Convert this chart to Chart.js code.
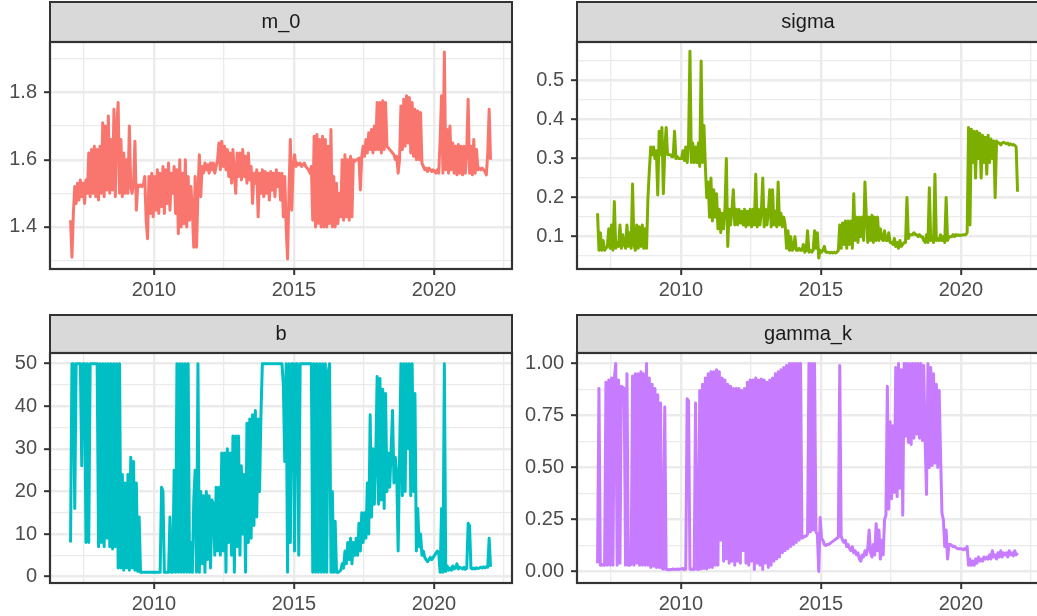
<!DOCTYPE html>
<html lang="ru">
<head>
<meta charset="utf-8">
<title>Параметры модели во времени</title>
<script src="https://cdn.jsdelivr.net/npm/chart.js@4.4.1/dist/chart.umd.min.js"></script>
<style>
  body { margin: 0; background: #fff; }
  .facets { position: relative; width: 1037px; height: 616px; overflow: hidden; }
  .facets canvas { position: absolute; }
</style>
</head>
<body>
<div class="facets">
  <canvas id="panel-m0" width="518" height="300" style="left:0;top:0"></canvas>
  <canvas id="panel-sigma" width="522" height="300" style="left:518px;top:0"></canvas>
  <canvas id="panel-b" width="518" height="316" style="left:0;top:300px"></canvas>
  <canvas id="panel-gamma" width="522" height="316" style="left:518px;top:300px"></canvas>
</div>
<script>
// Ряд дат: шаг 0.05 года, начиная с 2007.02
const startYear = 2007.02;
const stepYear = 0.05;
const yearTicks = [2010, 2015, 2020];
const yearMinorTicks = [2007.5, 2012.5, 2017.5, 2022.5];

// m_0 (по строке на год, 20 значений)
const m0Values = [
  1.42, 1.31, 1.44, 1.52, 1.47, 1.53, 1.48, 1.54, 1.49, 1.53, 1.47, 1.54, 1.50, 1.62, 1.49, 1.63, 1.50, 1.64, 1.49, 1.63,
  1.48, 1.64, 1.50, 1.71, 1.49, 1.70, 1.51, 1.73, 1.50, 1.66, 1.51, 1.75, 1.49, 1.70, 1.77, 1.50, 1.66, 1.49, 1.62, 1.50,
  1.60, 1.50, 1.70, 1.52, 1.50, 1.53, 1.655, 1.45, 1.525, 1.52, 1.525, 1.52, 1.525, 1.55, 1.42, 1.365, 1.55, 1.44, 1.56, 1.43,
  1.55, 1.45, 1.57, 1.44, 1.56, 1.46, 1.58, 1.44, 1.57, 1.47, 1.59, 1.45, 1.56, 1.50, 1.58, 1.44, 1.57, 1.38, 1.60, 1.40,
  1.56, 1.41, 1.60, 1.40, 1.55, 1.42, 1.52, 1.45, 1.34, 1.55, 1.34, 1.50, 1.615, 1.49, 1.58, 1.56, 1.59, 1.57, 1.585, 1.56,
  1.59, 1.57, 1.59, 1.56, 1.58, 1.60, 1.65, 1.57, 1.655, 1.58, 1.64, 1.57, 1.63, 1.55, 1.62, 1.53, 1.63, 1.56, 1.50, 1.62,
  1.55, 1.62, 1.54, 1.63, 1.55, 1.61, 1.53, 1.62, 1.54, 1.58, 1.47, 1.56, 1.53, 1.57, 1.43, 1.56, 1.50, 1.57, 1.49, 1.565,
  1.50, 1.56, 1.48, 1.565, 1.51, 1.56, 1.49, 1.57, 1.52, 1.56, 1.48, 1.56, 1.43, 1.55, 1.40, 1.305, 1.50, 1.66, 1.45, 1.58,
  1.615, 1.58, 1.59, 1.585, 1.59, 1.58, 1.585, 1.59, 1.58, 1.575, 1.57, 1.56, 1.58, 1.42, 1.67, 1.40, 1.675, 1.41, 1.66, 1.40,
  1.67, 1.40, 1.66, 1.40, 1.64, 1.41, 1.69, 1.40, 1.55, 1.40, 1.53, 1.41, 1.50, 1.43, 1.60, 1.42, 1.615, 1.43, 1.60, 1.42,
  1.61, 1.43, 1.60, 1.595, 1.60, 1.60, 1.605, 1.51, 1.61, 1.64, 1.61, 1.66, 1.62, 1.68, 1.63, 1.69, 1.62, 1.70, 1.63, 1.77,
  1.63, 1.77, 1.62, 1.775, 1.63, 1.77, 1.64, 1.635, 1.63, 1.625, 1.62, 1.615, 1.60, 1.61, 1.56, 1.60, 1.76, 1.63, 1.78, 1.64,
  1.79, 1.65, 1.785, 1.62, 1.77, 1.61, 1.75, 1.60, 1.745, 1.60, 1.74, 1.59, 1.58, 1.57, 1.575, 1.565, 1.575, 1.57, 1.565, 1.57,
  1.565, 1.56, 1.57, 1.56, 1.66, 1.79, 1.56, 1.92, 1.57, 1.69, 1.56, 1.70, 1.57, 1.65, 1.56, 1.64, 1.555, 1.645, 1.56, 1.64,
  1.555, 1.64, 1.56, 1.63, 1.78, 1.56, 1.64, 1.555, 1.66, 1.56, 1.63, 1.57, 1.575, 1.57, 1.575, 1.57, 1.565, 1.555, 1.62, 1.75,
  1.60
];

// sigma
const sigmaValues = [
  0.16, 0.065, 0.11, 0.065, 0.09, 0.065, 0.07, 0.075, 0.12, 0.07, 0.13, 0.065, 0.19, 0.07, 0.085, 0.075, 0.13, 0.07, 0.105, 0.08,
  0.07, 0.13, 0.075, 0.11, 0.07, 0.235, 0.08, 0.065, 0.13, 0.07, 0.125, 0.075, 0.13, 0.07, 0.12, 0.07, 0.20, 0.27, 0.33, 0.31,
  0.33, 0.30, 0.32, 0.207, 0.37, 0.31, 0.38, 0.21, 0.32, 0.38, 0.31, 0.31, 0.31, 0.305, 0.305, 0.37, 0.30, 0.305, 0.30, 0.30,
  0.30, 0.32, 0.295, 0.33, 0.29, 0.34, 0.575, 0.29, 0.34, 0.29, 0.33, 0.29, 0.34, 0.28, 0.55, 0.29, 0.385, 0.28, 0.20, 0.24,
  0.15, 0.25, 0.14, 0.22, 0.15, 0.21, 0.12, 0.17, 0.11, 0.16, 0.12, 0.17, 0.30, 0.075, 0.17, 0.13, 0.17, 0.22, 0.13, 0.17,
  0.13, 0.17, 0.135, 0.165, 0.13, 0.17, 0.125, 0.165, 0.13, 0.17, 0.125, 0.17, 0.13, 0.26, 0.125, 0.17, 0.13, 0.165, 0.25, 0.125,
  0.17, 0.13, 0.165, 0.22, 0.125, 0.22, 0.13, 0.165, 0.125, 0.24, 0.13, 0.16, 0.125, 0.15, 0.13, 0.07, 0.115, 0.065, 0.10, 0.065,
  0.07, 0.10, 0.065, 0.065, 0.07, 0.065, 0.065, 0.08, 0.06, 0.065, 0.115, 0.06, 0.065, 0.06, 0.065, 0.115, 0.07, 0.11, 0.045, 0.065,
  0.06, 0.065, 0.075, 0.06, 0.06, 0.06, 0.058, 0.06, 0.058, 0.06, 0.058, 0.06, 0.065, 0.13, 0.07, 0.135, 0.08, 0.14, 0.07, 0.14,
  0.08, 0.14, 0.07, 0.21, 0.09, 0.15, 0.085, 0.15, 0.10, 0.15, 0.09, 0.24, 0.15, 0.085, 0.15, 0.09, 0.155, 0.085, 0.15, 0.09,
  0.15, 0.09, 0.12, 0.095, 0.09, 0.115, 0.09, 0.09, 0.11, 0.085, 0.085, 0.08, 0.095, 0.075, 0.085, 0.07, 0.09, 0.075, 0.08, 0.085,
  0.085, 0.20, 0.095, 0.105, 0.105, 0.105, 0.11, 0.105, 0.105, 0.10, 0.105, 0.10, 0.10, 0.09, 0.085, 0.105, 0.085, 0.225, 0.09, 0.10,
  0.085, 0.26, 0.09, 0.095, 0.09, 0.105, 0.09, 0.10, 0.085, 0.20, 0.09, 0.10, 0.10, 0.10, 0.105, 0.10, 0.105, 0.103, 0.104, 0.103,
  0.104, 0.104, 0.105, 0.105, 0.11, 0.38, 0.13, 0.375, 0.29, 0.37, 0.25, 0.37, 0.30, 0.365, 0.25, 0.36, 0.29, 0.355, 0.26, 0.36,
  0.29, 0.35, 0.30, 0.345, 0.20, 0.345, 0.34, 0.34, 0.335, 0.34, 0.342, 0.34, 0.338, 0.34, 0.335, 0.338, 0.335, 0.336, 0.334, 0.33,
  0.215
];

// b
const bValues = [
  8, 50, 50, 16, 50, 50, 50, 50, 26, 50, 50, 8, 50, 8, 50, 50, 50, 50, 50, 50,
  7, 50, 8, 50, 7, 50, 9, 50, 7, 50, 6.5, 50, 7, 50, 2, 50, 2, 24, 1.5, 22,
  2, 24, 1.5, 28, 2, 27, 1.5, 22, 1.2, 14, 1, 1, 1, 1, 1, 1, 1, 1, 1, 1,
  1, 1, 1, 1, 1, 21, 20, 1, 1, 1, 1, 14, 1, 1, 25, 1, 50, 1, 50, 1,
  50, 1, 50, 1, 50, 1, 8, 1, 18, 25, 1, 50, 1, 20, 3, 19, 1, 20, 4, 19,
  2, 18, 17, 5, 21, 6, 21, 5, 29, 6, 29, 1, 30, 8, 29, 5, 33, 1, 33, 7,
  33, 5, 26, 10, 24, 1, 36, 8, 37, 9, 38, 12, 39, 14, 37, 20, 38, 50, 50, 50,
  50, 50, 50, 50, 50, 50, 50, 50, 50, 50, 50, 50, 45, 27, 50, 1, 50, 8, 50, 50,
  6, 50, 50, 5, 50, 50, 50, 50, 50, 50, 50, 50, 50, 1, 50, 1, 50, 1, 50, 1,
  50, 1, 50, 1, 48, 50, 1, 20, 1, 13, 1, 1, 1.2, 1.5, 3, 2, 6, 3, 8, 4,
  9, 3, 8, 5, 9, 5, 12.5, 6, 15, 8, 15, 9, 22, 10, 38, 14, 30, 17, 28, 47,
  17, 46.5, 18, 44, 16, 43, 20, 29, 21, 30, 39, 22, 28, 24, 6, 28, 50, 19, 50, 20,
  50, 30, 50, 19, 50, 20, 43, 6, 16, 7, 10, 5, 6, 4.5, 4, 3.5, 4, 4.5, 4, 4.5,
  5, 5.5, 6, 5.5, 1, 16, 1, 50, 1.2, 2.5, 1.5, 2, 1.5, 2.5, 1.8, 2, 3, 1.8, 2.2, 2,
  1.8, 2.2, 1.7, 2, 12.5, 12, 2, 1.8, 2, 1.8, 2.1, 1.9, 2, 2.2, 2, 2.3, 2.1, 2.3, 2.2, 9,
  2.3
];

// gamma_k
const gammaValues = [
  0.04, 0.88, 0.03, 0.03, 0.035, 0.03, 0.91, 0.03, 0.92, 0.03, 0.93, 0.03, 0.93, 1.0, 0.03, 0.92, 0.04, 0.89, 0.885, 0.88,
  0.03, 0.95, 0.03, 0.03, 0.035, 0.94, 0.03, 0.95, 0.04, 0.95, 0.03, 0.96, 0.03, 0.95, 0.03, 1.0, 0.03, 0.93, 0.02, 0.90,
  0.025, 0.88, 0.02, 0.85, 0.02, 0.81, 0.015, 0.012, 0.79, 0.01, 0.01, 0.008, 0.01, 0.01, 0.012, 0.01, 0.01, 0.012, 0.01, 0.012,
  0.012, 0.015, 0.01, 0.012, 0.83, 0.82, 0.012, 0.01, 0.012, 0.01, 0.81, 0.012, 0.01, 0.87, 0.012, 0.90, 0.015, 0.93, 0.012, 0.95,
  0.02, 0.96, 0.02, 0.96, 0.03, 0.97, 0.03, 0.96, 0.15, 0.93, 0.05, 0.92, 0.06, 0.90, 0.04, 0.89, 0.05, 0.88, 0.03, 0.88,
  0.05, 0.88, 0.04, 0.87, 0.10, 0.88, 0.04, 0.91, 0.03, 0.92, 0.05, 0.92, 0.01, 0.93, 0.04, 0.92, 0.03, 0.925, 0.01, 0.92,
  0.04, 0.91, 0.02, 0.92, 0.03, 0.93, 0.05, 0.95, 0.06, 0.96, 0.07, 0.97, 0.09, 0.98, 0.10, 0.99, 0.11, 1.0, 0.12, 1.0,
  0.13, 1.0, 0.14, 1.0, 0.15, 1.0, 0.16, 0.165, 0.17, 0.17, 0.18, 1.0, 0.19, 1.0, 0.2, 1.0, 0.19, 0.18, 0.0, 0.26,
  0.16, 0.15, 0.13, 0.125, 0.13, 0.13, 0.135, 0.14, 0.145, 0.15, 0.155, 0.16, 0.165, 0.99, 0.17, 0.15, 0.14, 0.15, 0.12, 0.13,
  0.11, 0.10, 0.12, 0.09, 0.10, 0.08, 0.09, 0.06, 0.05, 0.08, 0.07, 0.10, 0.08, 0.11, 0.2, 0.09, 0.07, 0.13, 0.08, 0.23,
  0.10, 0.20, 0.06, 0.15, 0.08, 0.25, 0.27, 0.89, 0.30, 0.72, 0.35, 0.70, 0.38, 0.98, 0.36, 1.0, 0.40, 0.97, 0.27, 1.0,
  0.65, 1.0, 0.62, 1.0, 0.61, 1.0, 0.64, 1.0, 0.66, 1.0, 0.64, 1.0, 0.63, 0.99, 0.62, 0.37, 1.0, 0.5, 0.98, 0.51,
  0.95, 0.52, 0.90, 0.5, 0.87, 0.57, 0.28, 0.25, 0.12, 0.2, 0.06, 0.13, 0.13, 0.125, 0.12, 0.12, 0.115, 0.11, 0.11, 0.11,
  0.11, 0.105, 0.11, 0.105, 0.12, 0.03, 0.06, 0.03, 0.05, 0.03, 0.06, 0.04, 0.07, 0.05, 0.06, 0.05, 0.07, 0.06, 0.07, 0.06,
  0.08, 0.06, 0.10, 0.07, 0.08, 0.06, 0.09, 0.07, 0.10, 0.07, 0.09, 0.08, 0.09, 0.07, 0.1, 0.08, 0.09, 0.075, 0.1, 0.08,
  0.09
];

// Деления осей Y
const m0Ticks = [1.4, 1.6, 1.8];
const m0TickLabels = ['1.4', '1.6', '1.8'];
const m0MinorTicks = [1.3, 1.5, 1.7, 1.9];

const sigmaTicks = [0.1, 0.2, 0.3, 0.4, 0.5];
const sigmaTickLabels = ['0.1', '0.2', '0.3', '0.4', '0.5'];
const sigmaMinorTicks = [0.05, 0.15, 0.25, 0.35, 0.45, 0.55];

const bTicks = [0, 10, 20, 30, 40, 50];
const bTickLabels = ['0', '10', '20', '30', '40', '50'];
const bMinorTicks = [5, 15, 25, 35, 45];

const gammaTicks = [0, 0.25, 0.5, 0.75, 1];
const gammaTickLabels = ['0.00', '0.25', '0.50', '0.75', '1.00'];
const gammaMinorTicks = [0.125, 0.375, 0.625, 0.875];

const FONT_FAMILY = '"Liberation Sans", Arial, Helvetica, sans-serif';
const GRID_COLOR = '#EBEBEB';
const DARK = '#333333';

/**
 * Плашка с названием панели и рамка вокруг области графика
 */
const facetPlugin = {
  id: 'facet',
  beforeDraw(chart, args, opts) {
    const { ctx, chartArea } = chart;
    const w = chartArea.right - chartArea.left;
    const h = chartArea.top - opts.stripTop;
    ctx.save();
    ctx.fillStyle = '#D9D9D9';
    ctx.fillRect(chartArea.left, opts.stripTop, w, h);
    ctx.strokeStyle = DARK;
    ctx.lineWidth = 2;
    ctx.strokeRect(chartArea.left, opts.stripTop, w, h);
    ctx.fillStyle = '#1A1A1A';
    ctx.font = `20px ${FONT_FAMILY}`;
    ctx.textAlign = 'center';
    ctx.textBaseline = 'middle';
    ctx.fillText(opts.title, chartArea.left + w / 2, opts.stripTop + h / 2);
    ctx.restore();
  },
  afterDatasetsDraw(chart) {
    const { ctx, chartArea } = chart;
    ctx.save();
    ctx.strokeStyle = DARK;
    ctx.lineWidth = 2.2;
    ctx.strokeRect(chartArea.left, chartArea.top,
      chartArea.right - chartArea.left, chartArea.bottom - chartArea.top);
    ctx.restore();
  }
};

/**
 * Общие настройки оси: основные и дополнительные деления
 */
const makeAxis = (major, labels, minor, fit) => ({
  type: 'linear',
  afterBuildTicks: (scale) => {
    scale.ticks = [...major, ...minor].sort((a, b) => a - b).map(v => ({ value: v }));
  },
  afterFit: fit,
  border: { display: false },
  grid: {
    color: GRID_COLOR,
    lineWidth: (c) => (major.includes(c.tick.value) ? 2.4 : 1.3),
    tickColor: (c) => (major.includes(c.tick.value) ? DARK : 'rgba(0,0,0,0)'),
    tickLength: 6,
    tickWidth: 2
  },
  ticks: {
    autoSkip: false,
    maxRotation: 0,
    minRotation: 0,
    color: '#4D4D4D',
    font: { family: FONT_FAMILY, size: 20 },
    callback: (value) => {
      const i = major.indexOf(value);
      return i >= 0 ? labels[i] : '';
    }
  }
});

/**
 * Построение одной панели
 */
const makePanel = (canvasId, cfg) => {
  const canvas = document.getElementById(canvasId);
  const points = cfg.values.map((v, i) => ({ x: startYear + i * stepYear, y: v }));

  const xAxis = makeAxis(yearTicks, yearTicks.map(String), yearMinorTicks,
    (scale) => { scale.height = canvas.height - cfg.area.bottom; });
  xAxis.min = 2006.286;
  xAxis.max = 2022.786;
  xAxis.ticks.padding = 3;

  const yAxis = makeAxis(cfg.ticks, cfg.tickLabels, cfg.minorTicks,
    (scale) => { scale.width = cfg.area.left; });
  yAxis.min = cfg.yMin;
  yAxis.max = cfg.yMax;
  yAxis.ticks.padding = 7;

  return new Chart(canvas.getContext('2d'), {
    type: 'line',
    data: {
      datasets: [{
        label: cfg.title,
        data: points,
        borderColor: cfg.color,
        borderWidth: 3,
        borderJoinStyle: 'round',
        pointRadius: 0,
        tension: 0,
        fill: false
      }]
    },
    options: {
      responsive: false,
      animation: false,
      events: [],
      layout: {
        padding: { top: cfg.area.top, right: canvas.width - cfg.area.right, bottom: 0, left: 0 }
      },
      plugins: {
        legend: { display: false },
        tooltip: { enabled: false },
        facet: { title: cfg.title, stripTop: cfg.stripTop }
      },
      scales: { x: xAxis, y: yAxis }
    },
    plugins: [facetPlugin]
  });
};

makePanel('panel-m0', {
  title: 'm_0', values: m0Values, color: '#F8766D',
  yMin: 1.275, yMax: 1.95,
  ticks: m0Ticks, tickLabels: m0TickLabels, minorTicks: m0MinorTicks,
  stripTop: 2, area: { left: 50, top: 42, right: 512, bottom: 269 }
});

makePanel('panel-sigma', {
  title: 'sigma', values: sigmaValues, color: '#7CAE00',
  yMin: 0.017, yMax: 0.599,
  ticks: sigmaTicks, tickLabels: sigmaTickLabels, minorTicks: sigmaMinorTicks,
  stripTop: 2, area: { left: 59, top: 42, right: 521, bottom: 269 }
});

makePanel('panel-b', {
  title: 'b', values: bValues, color: '#00BFC4',
  yMin: -1.5, yMax: 52.5,
  ticks: bTicks, tickLabels: bTickLabels, minorTicks: bMinorTicks,
  stripTop: 15, area: { left: 50, top: 53, right: 512, bottom: 283 }
});

makePanel('panel-gamma', {
  title: 'gamma_k', values: gammaValues, color: '#C77CFF',
  yMin: -0.055, yMax: 1.05,
  ticks: gammaTicks, tickLabels: gammaTickLabels, minorTicks: gammaMinorTicks,
  stripTop: 15, area: { left: 59, top: 53, right: 521, bottom: 283 }
});
</script>
</body>
</html>
